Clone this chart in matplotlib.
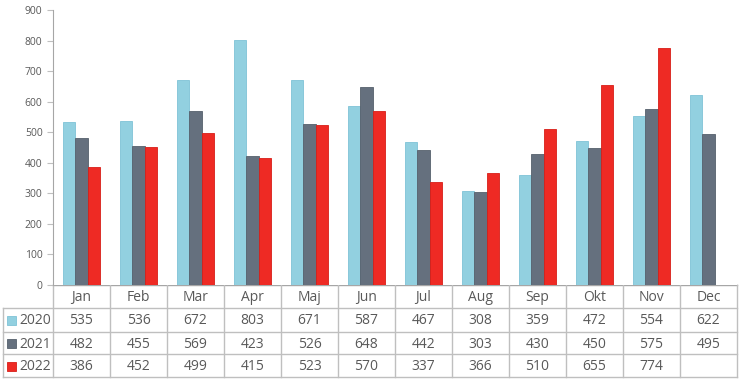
import numpy as np
import matplotlib.pyplot as plt
from matplotlib.patches import Rectangle

months = ['Jan', 'Feb', 'Mar', 'Apr', 'Maj', 'Jun', 'Jul', 'Aug', 'Sep', 'Okt', 'Nov', 'Dec']
years = ['2020', '2021', '2022']
v2020 = [535, 536, 672, 803, 671, 587, 467, 308, 359, 472, 554, 622]
v2021 = [482, 455, 569, 423, 526, 648, 442, 303, 430, 450, 575, 495]
v2022 = [386, 452, 499, 415, 523, 570, 337, 366, 510, 655, 774, None]

colors = ['#92D0E0', '#65707E', '#EE2A24']
edges = ['#7FC3D6', '#56606C', '#D81E18']
txt = '#595959'
grid = '#BFBFBF'
plt.rcParams['font.family'] = ['Open Sans', 'DejaVu Sans']

W, H = 746, 380
fig = plt.figure(figsize=(W / 100, H / 100), dpi=100)

# plot area in pixels
x0, x1, ytop, y0 = 53, 737, 10, 285
ax = fig.add_axes([x0 / W, (H - y0) / H, (x1 - x0) / W, (y0 - ytop) / H])

series = [v2020, v2021, v2022]
x = np.arange(len(months))
bw = 0.22
for i, vals in enumerate(series):
    arr = np.array([np.nan if v is None else v for v in vals], dtype=float)
    ax.bar(x + (i - 1) * bw, arr, width=bw, color=colors[i],
           edgecolor=edges[i], linewidth=0.6)

ax.set_xlim(-0.5, len(months) - 0.5)
ax.set_ylim(0, 900)
ax.set_yticks(range(0, 901, 100))
ax.set_xticks([])
ax.tick_params(axis='y', colors=grid, labelcolor=txt, labelsize=7.5, length=4, width=0.8)
for s in ['top', 'right', 'bottom']:
    ax.spines[s].set_visible(False)
ax.spines['left'].set_color('#A6A6A6')

# data table drawn in pixel coordinates
tx = fig.add_axes([0, 0, 1, 1], zorder=-1)
tx.set_xlim(0, W)
tx.set_ylim(H, 0)
tx.axis('off')

rows = [285, 308, 332, 354, 377]
cw = (x1 - x0) / 12
cols = [x0 + k * cw for k in range(13)]
lk = dict(color=grid, lw=1.0)
tx.plot([x0, x1], [rows[0], rows[0]], color='#A6A6A6', lw=1.0)
for r in rows[1:]:
    tx.plot([3, x1], [r, r], **lk)
for c in cols:
    tx.plot([c, c], [rows[0], rows[-1]], **lk)
tx.plot([3, 3], [rows[1], rows[-1]], **lk)

for k, m in enumerate(months):
    tx.text(cols[k] + cw / 2, (rows[0] + rows[1]) / 2 + 1, m, ha='center', va='center',
            fontsize=10, color=txt)
for i, vals in enumerate(series):
    yc = (rows[i + 1] + rows[i + 2]) / 2 + 1
    tx.add_patch(Rectangle((7, yc - 5), 9, 9, facecolor=colors[i],
                           edgecolor=edges[i], lw=0.6))
    tx.text(19, yc, years[i], ha='left', va='center', fontsize=10, color=txt)
    for k, v in enumerate(vals):
        if v is not None:
            tx.text(cols[k] + cw / 2, yc, str(v), ha='center', va='center',
                    fontsize=10, color=txt)

fig.savefig('out.png', dpi=100)
